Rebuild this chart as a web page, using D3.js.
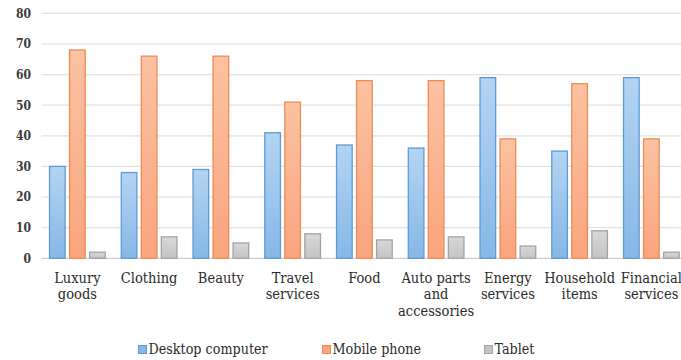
<!DOCTYPE html>
<html>
<head>
<meta charset="utf-8">
<script src="https://cdn.jsdelivr.net/npm/d3@7"></script>
<style>
  html, body { margin: 0; padding: 0; background: #fff; }
</style>
</head>
<body>
<div id="chart"></div>
<script>
const WIDTH = 681;
const HEIGHT = 360;
const FONT = "'DejaVu Serif Condensed', 'DejaVu Serif', serif";

const categories = [
  ["Luxury", "goods"],
  ["Clothing"],
  ["Beauty"],
  ["Travel", "services"],
  ["Food"],
  ["Auto parts", "and", "accessories"],
  ["Energy", "services"],
  ["Household", "items"],
  ["Financial", "services"]
];
const seriesNames = ["Desktop computer", "Mobile phone", "Tablet"];
const desktop = [30, 28, 29, 41, 37, 36, 59, 35, 59];
const mobile = [68, 66, 66, 51, 58, 58, 39, 57, 39];
const tablet = [2, 7, 5, 8, 6, 7, 4, 9, 2];
const yTicks = [0, 10, 20, 30, 40, 50, 60, 70, 80];

const palette = [
  { top: "#b3d4f2", bottom: "#86b8e6", stroke: "#5d9bd6" },
  { top: "#fcc2a2", bottom: "#f9a57e", stroke: "#ef8a52" },
  { top: "#d8d8d8", bottom: "#c4c4c4", stroke: "#a3a3a3" }
];

const values = [desktop, mobile, tablet];
const labels = categories.map((c) => c.join(" "));
const rows = labels.map((label, i) => ({
  label,
  lines: categories[i],
  vals: values.map((v, s) => ({ series: s, value: v[i] }))
}));

const plot = { left: 41.5, right: 687.25, top: 13.3, bottom: 258.3 };

const svg = d3.select("#chart")
  .append("svg")
  .attr("width", WIDTH)
  .attr("height", HEIGHT)
  .style("font-family", FONT)
  .style("display", "block");

const defs = svg.append("defs");
palette.forEach((p, i) => {
  const g = defs.append("linearGradient")
    .attr("id", `grad-${i}`)
    .attr("x1", 0).attr("y1", 0).attr("x2", 0).attr("y2", 1);
  g.append("stop").attr("offset", "0%").attr("stop-color", p.top);
  g.append("stop").attr("offset", "100%").attr("stop-color", p.bottom);
});

const x0 = d3.scaleBand()
  .domain(labels)
  .range([plot.left, plot.right])
  .paddingInner(0.21)
  .paddingOuter(0.105);

const x1 = d3.scaleBand()
  .domain(d3.range(seriesNames.length))
  .range([0, x0.bandwidth()])
  .paddingInner(0.17);

const y = d3.scaleLinear()
  .domain([0, 80])
  .range([plot.bottom, plot.top]);

// gridlines
svg.append("g")
  .selectAll("line")
  .data(yTicks)
  .join("line")
  .attr("x1", plot.left)
  .attr("x2", WIDTH)
  .attr("y1", (d) => y(d))
  .attr("y2", (d) => y(d))
  .attr("stroke", (d) => (d === 0 ? "#cfcfcf" : "#e2e2e2"))
  .attr("stroke-width", 1.2);

// y axis labels
const yAxis = svg.append("g")
  .attr("transform", "translate(31,0)")
  .call(d3.axisLeft(y).tickValues(yTicks).tickSize(0).tickPadding(0));
yAxis.style("font-family", FONT);
yAxis.select(".domain").remove();
yAxis.selectAll("text")
  .attr("font-size", 12)
  .attr("font-weight", "bold")
  .attr("fill", "#3a3a3a");

// bars
const groups = svg.append("g")
  .selectAll("g")
  .data(rows)
  .join("g")
  .attr("transform", (d) => `translate(${x0(d.label)},0)`);

groups.selectAll("rect")
  .data((d) => d.vals)
  .join("rect")
  .attr("x", (d) => x1(d.series) + 0.5)
  .attr("width", x1.bandwidth() - 1)
  .attr("y", (d) => y(d.value))
  .attr("height", (d) => y(0) - y(d.value))
  .attr("fill", (d) => `url(#grad-${d.series})`)
  .attr("stroke", (d) => palette[d.series].stroke)
  .attr("stroke-width", 1.3);

// category labels
const catLabels = svg.append("g")
  .selectAll("text")
  .data(rows)
  .join("text")
  .attr("x", (d) => x0(d.label) + x0.bandwidth() / 2)
  .attr("y", 283)
  .attr("text-anchor", "middle")
  .attr("font-size", 14.5)
  .attr("fill", "#2b2b2b");

catLabels.selectAll("tspan")
  .data((d) => d.lines.map((line) => ({ line, x: x0(d.label) + x0.bandwidth() / 2 })))
  .join("tspan")
  .attr("x", (d) => d.x)
  .attr("dy", (d, i) => (i === 0 ? 0 : 16.3))
  .text((d) => d.line);

// legend
const legendX = [138, 322, 484];
const legend = svg.append("g")
  .selectAll("g")
  .data(seriesNames)
  .join("g")
  .attr("transform", (d, i) => `translate(${legendX[i]},354)`);

legend.append("rect")
  .attr("x", 0.5)
  .attr("y", -8.5)
  .attr("width", 8)
  .attr("height", 8)
  .attr("fill", (d, i) => palette[i].bottom)
  .attr("stroke", (d, i) => palette[i].stroke)
  .attr("stroke-width", 1);

legend.append("text")
  .attr("x", 10.5)
  .attr("y", 0)
  .attr("font-size", 14.2)
  .attr("fill", "#2b2b2b")
  .text((d) => d);
</script>
</body>
</html>
